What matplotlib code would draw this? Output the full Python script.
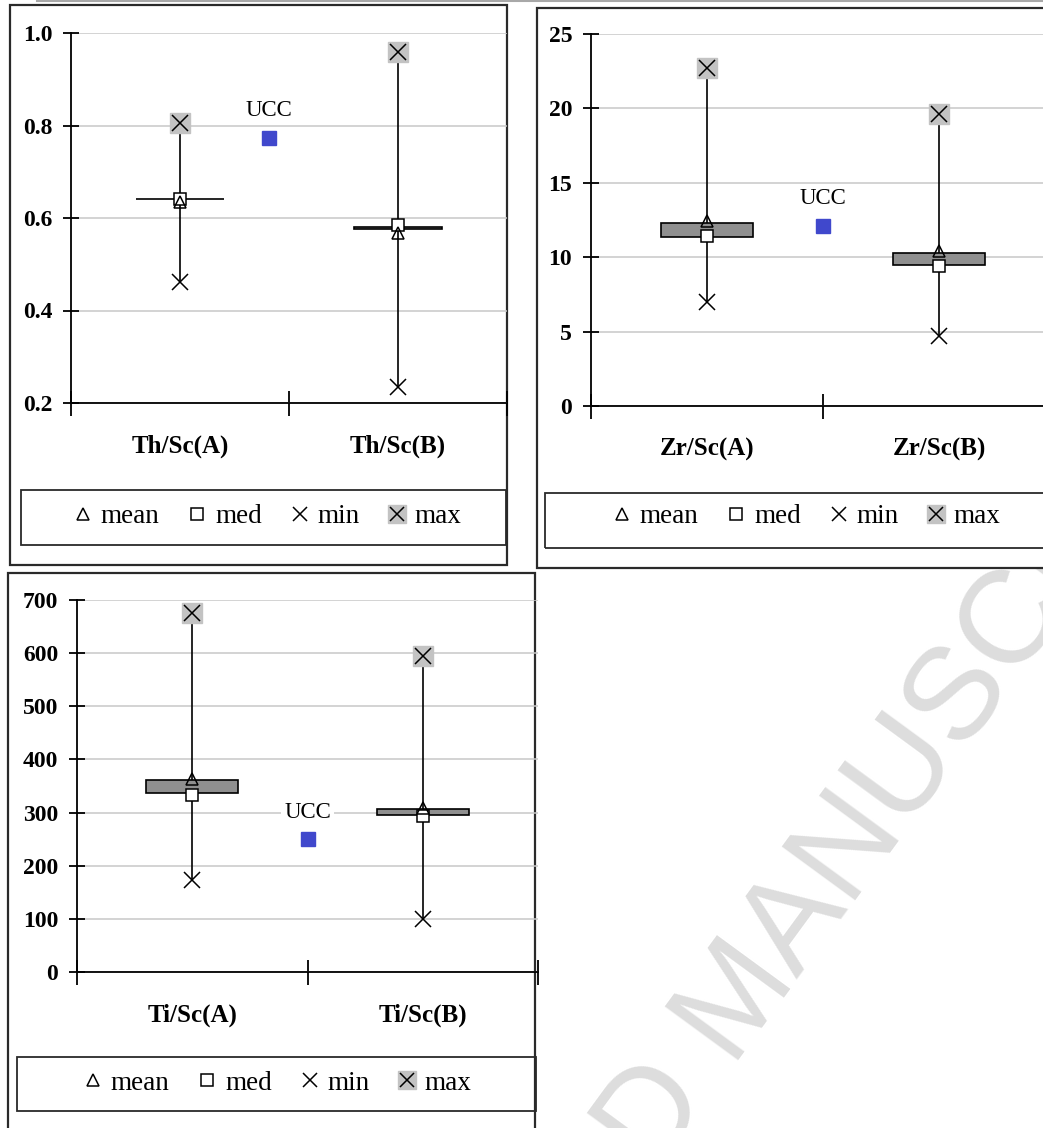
"""
Th/Sc, Zr/Sc and Ti/Sc summary panels (A vs B) against the UCC value.
Each panel: min-max whisker, Q-box, mean (triangle), median (square),
min (x), max (x on grey square) and the UCC reference as a blue square.
"""
import matplotlib
matplotlib.use("Agg")
import matplotlib.pyplot as plt
from matplotlib.legend_handler import HandlerTuple
from matplotlib.lines import Line2D
from matplotlib.patches import Rectangle

W, H = 1043, 1128  # output size in px (dpi 100)

# --- data ------------------------------------------------------------------
TH_CATS = ["Th/Sc(A)", "Th/Sc(B)"]
TH_MEAN = [0.635, 0.568]
TH_MED = [0.642, 0.585]
TH_MIN = [0.461, 0.235]
TH_MAX = [0.805, 0.960]
TH_BOX_LO = [0.641, 0.577]
TH_BOX_HI = [0.642, 0.581]
TH_UCC = 0.773
TH_TICKS = [0.2, 0.4, 0.6, 0.8, 1.0]

ZR_CATS = ["Zr/Sc(A)", "Zr/Sc(B)"]
ZR_MEAN = [12.4, 10.4]
ZR_MED = [11.4, 9.4]
ZR_MIN = [7.0, 4.7]
ZR_MAX = [22.7, 19.6]
ZR_BOX_LO = [11.35, 9.45]
ZR_BOX_HI = [12.3, 10.3]
ZR_UCC = 12.1
ZR_TICKS = [0, 5, 10, 15, 20, 25]

TI_CATS = ["Ti/Sc(A)", "Ti/Sc(B)"]
TI_MEAN = [364, 308]
TI_MED = [334, 294]
TI_MIN = [174, 100]
TI_MAX = [675, 595]
TI_BOX_LO = [337, 296]
TI_BOX_HI = [361, 306]
TI_UCC = 250
TI_TICKS = [0, 100, 200, 300, 400, 500, 600, 700]

LEGEND_LABELS = ["mean", "med", "min", "max"]

SERIF = "Liberation Serif"
BOX_GREY = "#8f8f8f"
MAX_GREY = "#c3c3c3"
UCC_BLUE = "#4048cc"


def fig_box(x0, y0, x1, y1):
    """Pixel box (top-left origin) -> figure-fraction [left, bottom, w, h]."""
    return [x0 / W, 1 - y1 / H, (x1 - x0) / W, (y1 - y0) / H]


def draw_panel(ax, cats, mean, med, vmin, vmax, lo, hi, ucc, ucc_x, ticks, fmt):
    x = [0.5, 1.5]
    ax.set_xlim(0, 2)
    ax.set_ylim(ticks[0], ticks[-1])
    ax.set_yticks(ticks, [fmt.format(t) for t in ticks])
    ax.set_xticks([0, 1, 2], ["", "", ""])
    ax.set_xticks(x, cats, minor=True)
    ax.tick_params(axis="x", which="minor", length=0, pad=23, labelsize=18)
    ax.tick_params(axis="x", which="major", direction="inout", length=18, width=1.3)
    ax.tick_params(axis="y", direction="inout", length=11, width=1.3, pad=8, labelsize=17)
    for lab in ax.get_xticklabels(minor=True) + ax.get_yticklabels():
        lab.set_fontweight("bold")
        lab.set_family(SERIF)

    ax.grid(axis="y", color="#c8c8c8", lw=1.1)
    ax.set_axisbelow(True)
    for side in ("top", "right"):
        ax.spines[side].set_visible(False)
    for side in ("left", "bottom"):
        ax.spines[side].set_linewidth(1.3)
    ax.patch.set_visible(False)

    ax.vlines(x, vmin, vmax, color="black", lw=1.2, zorder=2)
    heights = [h - l for h, l in zip(hi, lo)]
    ax.bar(x, heights, bottom=lo, width=0.4, color=BOX_GREY,
           edgecolor="black", lw=1.2, zorder=3)
    ax.plot(x, vmax, ls="none", marker="s", ms=14, mfc=MAX_GREY, mec=MAX_GREY, zorder=4)
    ax.plot(x, vmax, ls="none", marker="x", ms=11, mec="black", mew=1.1, zorder=5)
    ax.plot(x, vmin, ls="none", marker="x", ms=11, mec="black", mew=1.1, zorder=5)
    ax.plot(x, med, ls="none", marker="s", ms=9, mfc="white", mec="black", mew=1.1, zorder=6)
    ax.plot(x, mean, ls="none", marker="^", ms=8, mfc="none", mec="black", mew=1.1, zorder=7)

    ax.plot([ucc_x], [ucc], ls="none", marker="s", ms=10.5, color=UCC_BLUE, zorder=6)
    ax.annotate("UCC", (ucc_x, ucc), xytext=(0, 19.5), textcoords="offset points",
                ha="center", va="center", family=SERIF, fontsize=16.5,
                bbox=dict(boxstyle="square,pad=0.15", fc="white", ec="none"), zorder=6)


def add_legend(fig, ax, cx, cy):
    handles = [
        Line2D([], [], ls="none", marker="^", ms=9, mfc="none", mec="black", mew=1.1),
        Line2D([], [], ls="none", marker="s", ms=9, mfc="white", mec="black", mew=1.1),
        Line2D([], [], ls="none", marker="x", ms=10, mec="black", mew=1.1),
        (Line2D([], [], ls="none", marker="s", ms=13, mfc=MAX_GREY, mec=MAX_GREY),
         Line2D([], [], ls="none", marker="x", ms=10, mec="black", mew=1.1)),
    ]
    ax.legend(handles, LEGEND_LABELS, handler_map={tuple: HandlerTuple(ndivide=1)},
              loc="center", bbox_to_anchor=(cx / W, 1 - cy / H),
              bbox_transform=fig.transFigure, ncol=4, frameon=False,
              handlelength=0.8, handletextpad=0.25, columnspacing=1.0,
              prop={"family": SERIF, "size": 19.5})


def add_rect(fig, x0, y0, x1, y1, lw, fc, z):
    l, b, w, h = fig_box(x0, y0, x1, y1)
    fig.add_artist(Rectangle((l, b), w, h, transform=fig.transFigure,
                             fc=fc, ec="#2a2a2a", lw=lw, zorder=z))


fig = plt.figure(figsize=(W / 100, H / 100), dpi=100)
fig.patch.set_facecolor("white")

# watermark sits underneath the chart frames
fig.text(767 / W, 1 - 1021 / H, "ACCEPTED MANUSCRIPT", rotation=53.8,
         rotation_mode="anchor", ha="center", va="baseline", fontsize=95,
         family="Liberation Sans", color="#dddddd", zorder=-3)
fig.add_artist(Line2D([37 / W, 1], [1 - 1 / H, 1 - 1 / H], transform=fig.transFigure,
                      color="#a8a8a8", lw=1.5))

# chart frames + legend boxes
add_rect(fig, 10, 5, 507, 565, 1.6, "white", -2)
add_rect(fig, 537, 8, 1065, 568, 1.6, "white", -2)
add_rect(fig, 8, 573, 535, 1140, 1.6, "white", -2)
add_rect(fig, 21, 490, 506, 545, 1.3, "none", -1)
add_rect(fig, 545, 493, 1065, 548, 1.3, "none", -1)
add_rect(fig, 17, 1057, 536, 1111, 1.3, "none", -1)

ax_th = fig.add_axes(fig_box(71, 33, 507, 403))
draw_panel(ax_th, TH_CATS, TH_MEAN, TH_MED, TH_MIN, TH_MAX, TH_BOX_LO, TH_BOX_HI,
           TH_UCC, 0.91, TH_TICKS, "{:.1f}")
add_legend(fig, ax_th, 267, 517)

ax_zr = fig.add_axes(fig_box(591, 34, 1055, 406))
draw_panel(ax_zr, ZR_CATS, ZR_MEAN, ZR_MED, ZR_MIN, ZR_MAX, ZR_BOX_LO, ZR_BOX_HI,
           ZR_UCC, 1.0, ZR_TICKS, "{:d}")
add_legend(fig, ax_zr, 806, 517)

ax_ti = fig.add_axes(fig_box(77, 600, 538, 972))
draw_panel(ax_ti, TI_CATS, TI_MEAN, TI_MED, TI_MIN, TI_MAX, TI_BOX_LO, TI_BOX_HI,
           TI_UCC, 1.0, TI_TICKS, "{:d}")
add_legend(fig, ax_ti, 277, 1083)

fig.savefig("out.png", dpi=100)
plt.close(fig)
